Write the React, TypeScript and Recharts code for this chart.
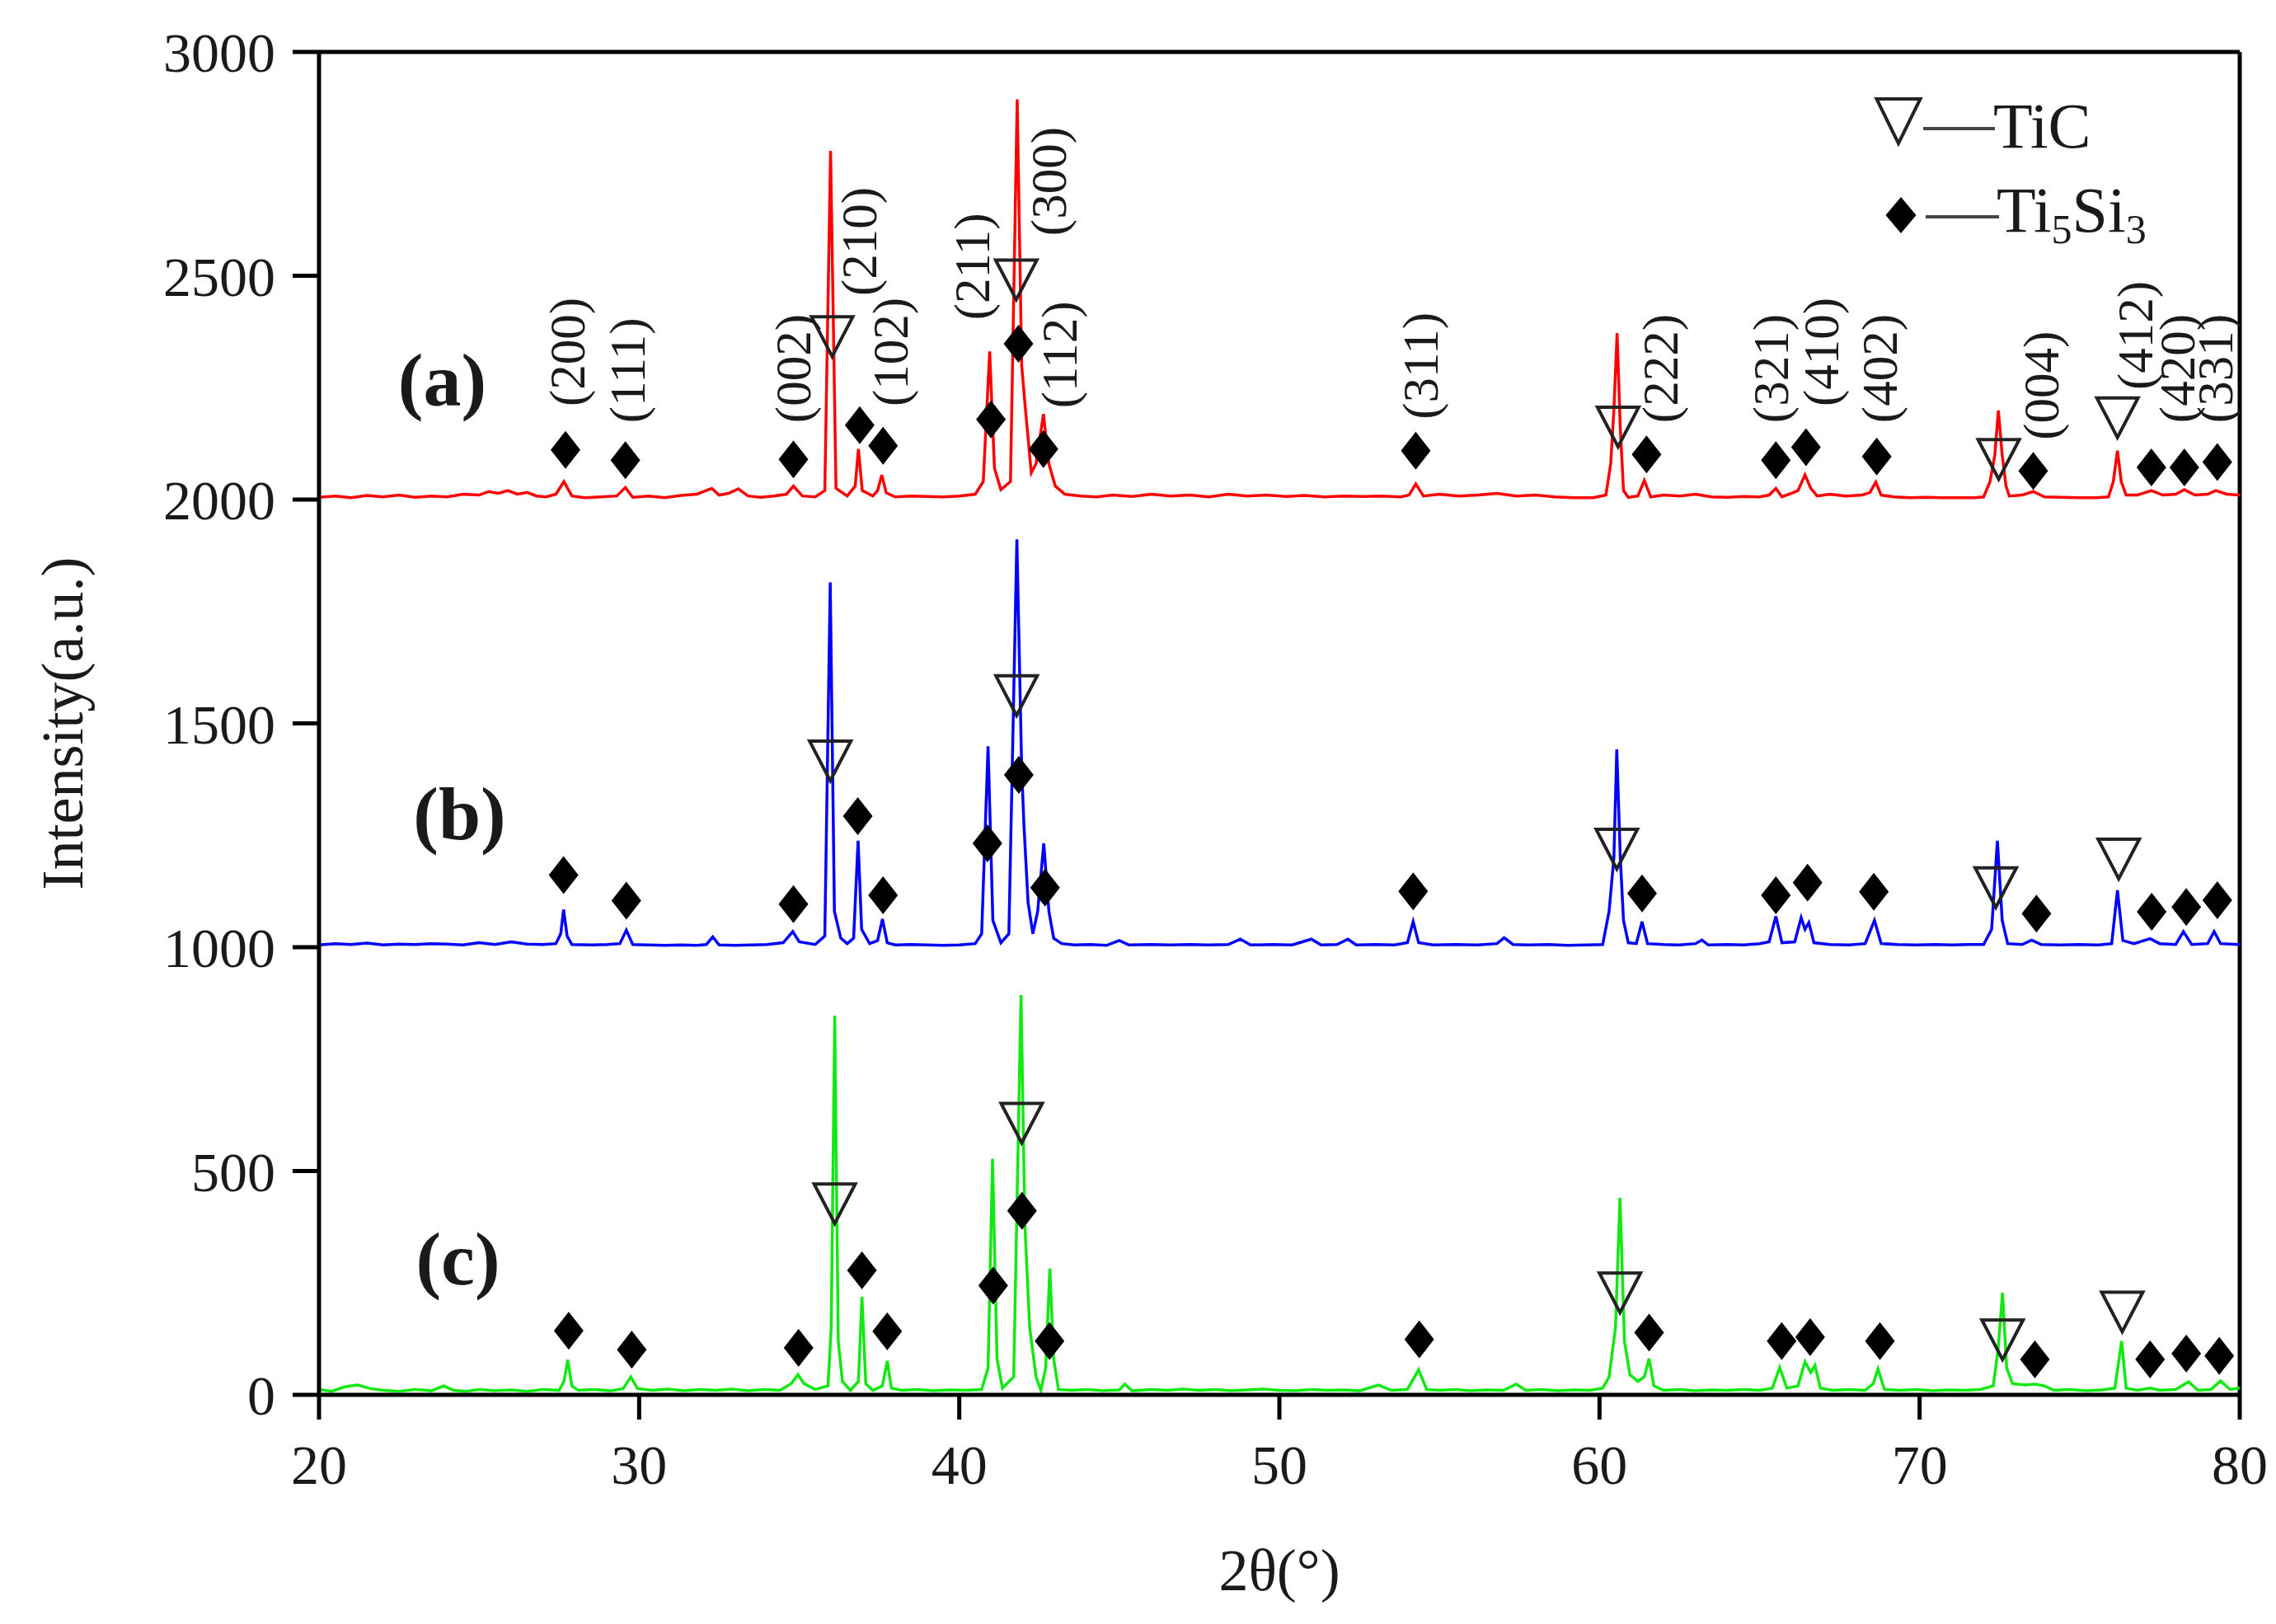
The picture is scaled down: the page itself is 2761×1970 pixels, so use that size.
import React from 'react';
import {
    ComposedChart,
    Line,
    Scatter,
    XAxis,
    YAxis,
    ReferenceLine,
} from 'recharts';

// XRD patterns, [2θ, intensity]
const PATTERN_A: [number, number][] = [
    [20.0, 2005], [20.5, 2008], [21.0, 2004], [21.5, 2009], [22.0, 2006], [22.5, 2010], [23.0, 2005],
    [23.5, 2008], [24.0, 2006], [24.5, 2012], [25.0, 2010], [25.3, 2018], [25.6, 2014], [25.9, 2020],
    [26.2, 2012], [26.5, 2016], [26.8, 2008], [27.1, 2006], [27.4, 2012], [27.65, 2040], [27.9, 2008],
    [28.3, 2004], [28.8, 2006], [29.3, 2008], [29.57, 2027], [29.8, 2005], [30.3, 2008], [30.8, 2004],
    [31.3, 2009], [31.8, 2012], [32.27, 2025], [32.5, 2010], [32.8, 2014], [33.1, 2024], [33.4, 2008],
    [33.8, 2005], [34.2, 2008], [34.6, 2012], [34.82, 2030], [35.1, 2008], [35.5, 2006], [35.8, 2020],
    [35.98, 2779], [36.15, 2025], [36.5, 2008], [36.75, 2030], [36.85, 2113], [36.97, 2020], [37.3, 2008],
    [37.45, 2020], [37.58, 2055], [37.72, 2015], [38.0, 2006], [38.5, 2008], [39.0, 2007], [39.5, 2006],
    [40.0, 2008], [40.5, 2012], [40.75, 2040], [40.95, 2331], [41.1, 2070], [41.3, 2022], [41.6, 2040],
    [41.81, 2894], [41.95, 2300], [42.05, 2216], [42.25, 2060], [42.4, 2080], [42.63, 2191], [42.8, 2080],
    [43.0, 2030], [43.3, 2012], [43.8, 2008], [44.3, 2006], [44.8, 2010], [45.4, 2007], [46.0, 2012],
    [46.6, 2008], [47.2, 2010], [47.8, 2006], [48.4, 2012], [49.0, 2008], [49.6, 2010], [50.2, 2007],
    [50.8, 2009], [51.4, 2006], [52.0, 2008], [52.6, 2007], [53.2, 2008], [53.8, 2006], [54.05, 2010],
    [54.26, 2035], [54.5, 2008], [55.0, 2012], [55.6, 2008], [56.2, 2010], [56.8, 2014], [57.4, 2008],
    [58.0, 2010], [58.6, 2006], [59.2, 2004], [59.8, 2004], [60.2, 2010], [60.35, 2080], [60.45, 2200],
    [60.55, 2372], [60.65, 2160], [60.75, 2020], [60.9, 2005], [61.2, 2008], [61.4, 2043], [61.6, 2006],
    [62.0, 2010], [62.5, 2008], [63.0, 2012], [63.5, 2006], [64.0, 2005], [64.5, 2007], [65.0, 2006],
    [65.3, 2010], [65.51, 2025], [65.7, 2006], [66.0, 2014], [66.2, 2020], [66.42, 2055], [66.6, 2025],
    [66.8, 2008], [67.2, 2012], [67.7, 2008], [68.2, 2010], [68.45, 2016], [68.63, 2039], [68.8, 2010],
    [69.2, 2006], [69.7, 2004], [70.2, 2005], [70.7, 2004], [71.2, 2004], [71.7, 2004], [72.0, 2006],
    [72.2, 2040], [72.35, 2100], [72.46, 2199], [72.58, 2100], [72.7, 2030], [72.8, 2008], [73.2, 2010],
    [73.55, 2018], [73.9, 2006], [74.4, 2005], [75.0, 2004], [75.5, 2004], [75.9, 2006], [76.05, 2040],
    [76.18, 2109], [76.3, 2040], [76.45, 2010], [76.8, 2010], [77.24, 2020], [77.6, 2010], [78.0, 2012],
    [78.27, 2022], [78.6, 2010], [79.0, 2012], [79.25, 2020], [79.6, 2012], [80.0, 2010],
];

const PATTERN_B: [number, number][] = [
    [20.0, 1005], [20.5, 1008], [21.0, 1006], [21.5, 1009], [22.0, 1005], [22.5, 1007], [23.0, 1006],
    [23.5, 1008], [24.0, 1007], [24.5, 1005], [25.0, 1010], [25.5, 1006], [26.0, 1012], [26.5, 1007],
    [27.0, 1006], [27.4, 1008], [27.55, 1030], [27.64, 1084], [27.75, 1025], [27.9, 1006], [28.5, 1005],
    [29.0, 1006], [29.4, 1008], [29.6, 1038], [29.8, 1006], [30.3, 1005], [30.8, 1004], [31.3, 1005],
    [31.8, 1004], [32.1, 1006], [32.3, 1023], [32.5, 1005], [33.0, 1004], [33.5, 1005], [34.0, 1006],
    [34.5, 1010], [34.8, 1035], [35.0, 1012], [35.5, 1006], [35.8, 1025], [35.97, 1815], [36.1, 1080],
    [36.3, 1020], [36.5, 1008], [36.7, 1020], [36.84, 1238], [36.95, 1040], [37.2, 1008], [37.45, 1015],
    [37.6, 1063], [37.75, 1010], [38.0, 1005], [38.5, 1006], [39.0, 1005], [39.5, 1004], [40.0, 1005],
    [40.5, 1008], [40.7, 1030], [40.9, 1449], [41.05, 1060], [41.3, 1010], [41.55, 1030], [41.8, 1911],
    [41.95, 1400], [42.02, 1274], [42.15, 1100], [42.3, 1030], [42.45, 1080], [42.64, 1232], [42.8, 1080],
    [42.95, 1020], [43.2, 1008], [43.6, 1005], [44.1, 1006], [44.6, 1004], [45.0, 1015], [45.3, 1005],
    [46.0, 1006], [46.6, 1005], [47.2, 1006], [47.8, 1005], [48.4, 1006], [48.78, 1018], [49.1, 1005],
    [49.8, 1006], [50.4, 1005], [51.0, 1018], [51.3, 1005], [51.8, 1006], [52.14, 1018], [52.4, 1005],
    [53.0, 1006], [53.6, 1005], [54.0, 1010], [54.18, 1057], [54.35, 1010], [54.8, 1005], [55.5, 1006],
    [56.2, 1005], [56.8, 1008], [57.02, 1021], [57.3, 1006], [57.8, 1005], [58.4, 1006], [59.0, 1004],
    [59.6, 1005], [60.1, 1006], [60.3, 1080], [60.45, 1200], [60.54, 1442], [60.65, 1200], [60.75, 1060],
    [60.9, 1010], [61.15, 1008], [61.33, 1057], [61.5, 1008], [62.0, 1006], [62.5, 1005], [63.0, 1008],
    [63.2, 1016], [63.4, 1005], [64.0, 1006], [64.5, 1005], [65.0, 1008], [65.3, 1012], [65.51, 1069],
    [65.7, 1010], [66.1, 1012], [66.3, 1066], [66.42, 1040], [66.54, 1055], [66.7, 1010], [67.2, 1006],
    [67.8, 1005], [68.3, 1008], [68.59, 1060], [68.8, 1008], [69.3, 1006], [69.9, 1005], [70.5, 1006],
    [71.0, 1005], [71.5, 1006], [72.0, 1006], [72.25, 1040], [72.43, 1238], [72.58, 1060], [72.75, 1008],
    [73.2, 1006], [73.5, 1016], [73.8, 1006], [74.4, 1005], [75.0, 1006], [75.6, 1005], [76.0, 1008],
    [76.18, 1127], [76.35, 1015], [76.7, 1008], [77.2, 1019], [77.5, 1008], [78.0, 1006], [78.24, 1035],
    [78.5, 1006], [79.0, 1008], [79.2, 1035], [79.4, 1008], [80.0, 1006],
];

const PATTERN_C: [number, number][] = [
    [20.0, 12], [20.4, 8], [20.8, 18], [21.2, 22], [21.6, 14], [22.0, 10], [22.5, 8], [23.0, 12],
    [23.5, 9], [23.9, 20], [24.2, 10], [24.6, 8], [25.0, 12], [25.5, 9], [26.0, 11], [26.5, 8],
    [27.0, 12], [27.5, 10], [27.65, 30], [27.77, 78], [27.9, 20], [28.1, 10], [28.6, 12], [29.1, 9],
    [29.5, 14], [29.74, 40], [29.95, 14], [30.4, 10], [30.9, 13], [31.4, 9], [31.9, 12], [32.4, 10],
    [32.9, 13], [33.4, 9], [33.9, 12], [34.4, 10], [34.75, 25], [34.96, 45], [35.15, 25], [35.5, 12],
    [35.9, 20], [36.0, 150], [36.11, 847], [36.22, 120], [36.35, 30], [36.6, 10], [36.85, 30], [36.96, 219],
    [37.08, 25], [37.3, 10], [37.6, 20], [37.75, 76], [37.88, 15], [38.2, 10], [38.7, 12], [39.2, 9],
    [39.7, 11], [40.2, 10], [40.7, 12], [40.9, 60], [41.04, 527], [41.18, 80], [41.35, 15], [41.7, 40],
    [41.93, 893], [42.05, 380], [42.2, 150], [42.4, 40], [42.55, 10], [42.7, 60], [42.83, 282], [42.95, 80],
    [43.1, 12], [43.5, 10], [44.0, 12], [44.5, 9], [45.0, 11], [45.17, 24], [45.4, 9], [46.0, 12],
    [46.5, 10], [47.0, 13], [47.5, 10], [48.0, 12], [48.5, 9], [49.0, 11], [49.5, 13], [50.0, 10],
    [50.5, 9], [51.0, 12], [51.5, 10], [52.0, 11], [52.5, 9], [53.1, 22], [53.5, 10], [54.0, 12],
    [54.35, 56], [54.6, 12], [55.0, 10], [55.5, 12], [56.0, 9], [56.5, 11], [57.0, 10], [57.4, 24],
    [57.7, 10], [58.2, 12], [58.7, 9], [59.2, 11], [59.7, 10], [60.1, 15], [60.3, 40], [60.5, 150],
    [60.64, 440], [60.78, 120], [60.95, 45], [61.2, 30], [61.4, 40], [61.55, 81], [61.7, 20], [62.0, 10],
    [62.5, 12], [63.0, 9], [63.5, 11], [64.0, 10], [64.5, 12], [65.0, 10], [65.4, 15], [65.63, 61],
    [65.85, 15], [66.2, 20], [66.42, 74], [66.6, 50], [66.73, 66], [66.9, 15], [67.3, 10], [67.8, 12],
    [68.3, 10], [68.55, 25], [68.7, 58], [68.9, 12], [69.4, 10], [69.9, 12], [70.4, 9], [70.9, 11],
    [71.4, 10], [71.9, 12], [72.3, 20], [72.45, 100], [72.59, 228], [72.72, 60], [72.9, 25], [73.3, 22],
    [73.6, 24], [73.9, 20], [74.2, 10], [74.7, 12], [75.2, 9], [75.7, 11], [76.1, 15], [76.31, 120],
    [76.45, 15], [76.8, 10], [77.2, 15], [77.5, 10], [78.0, 12], [78.4, 29], [78.7, 10], [79.1, 12],
    [79.4, 31], [79.7, 12], [80.0, 15],
];

// phase markers: ∇ TiC, ◆ Ti5Si3
const TIC_MARKS: [number, number][] = [
    [36.03, 2364], [41.78, 2491], [60.58, 2162], [72.47, 2090], [76.18, 2183],
    [35.97, 1416], [41.79, 1562], [60.54, 1219], [72.38, 1133], [76.22, 1197],
    [36.11, 427], [41.95, 607], [60.64, 228], [72.59, 123], [76.33, 185],
];

const TI5SI3_MARKS: [number, number][] = [
    [27.7, 2111], [29.57, 2088], [34.82, 2090], [36.89, 2166], [37.62, 2120], [40.99, 2179],
    [41.85, 2348], [42.63, 2113], [54.26, 2109], [61.47, 2101], [65.51, 2088], [66.45, 2117],
    [68.66, 2096], [73.55, 2064], [77.24, 2072], [78.27, 2072], [79.3, 2084],
    [27.64, 1161], [29.6, 1104], [34.82, 1096], [36.83, 1293], [37.62, 1116], [40.88, 1232],
    [41.86, 1385], [42.68, 1133], [54.18, 1125], [61.33, 1120], [65.51, 1116], [66.5, 1144],
    [68.57, 1124], [73.65, 1075], [77.25, 1079], [78.33, 1090], [79.3, 1105],
    [27.8, 143], [29.77, 101], [34.98, 105], [36.96, 278], [37.75, 142], [41.06, 244],
    [41.96, 411], [42.82, 120], [54.37, 124], [61.55, 139], [65.69, 120], [66.58, 129],
    [68.76, 120], [73.6, 79], [77.2, 79], [78.33, 92], [79.36, 87],
];

// Miller indices above pattern (a): label, 2θ, intensity at the text's start
const HKL_LABELS = ['(200)', '(111)', '(002)', '(210)', '(102)', '(211)', '(300)', '(112)', '(311)',
    '(222)', '(321)', '(410)', '(402)', '(004)', '(412)', '(420)', '(331)'];
const HKL_THETA = [27.77, 29.65, 34.82, 36.89, 37.87, 40.41, 42.81, 43.15, 54.42,
    61.9, 65.35, 66.92, 68.75, 73.82, 76.75, 78.06, 79.25];
const HKL_BASE = [2208, 2171, 2171, 2455, 2208, 2401, 2589, 2204, 2179,
    2171, 2171, 2208, 2171, 2133, 2245, 2171, 2171];

const PANEL_LABELS = ['(a)', '(b)', '(c)'];
const PANEL_THETA = [23.85, 24.39, 24.34];
const PANEL_Y = [2267, 1298, 304];

const X_TICKS = [20, 30, 40, 50, 60, 70, 80];
const Y_TICKS = [0, 500, 1000, 1500, 2000, 2500, 3000];

const FONT = '"Liberation Serif", "Times New Roman", serif';
const INK = '#1a1a1a';

const toPts = (arr: [number, number][]) => arr.map(([x, y]) => ({ x, y }));

const dataA = toPts(PATTERN_A);
const dataB = toPts(PATTERN_B);
const dataC = toPts(PATTERN_C);
const ticData = toPts(TIC_MARKS);
const siData = toPts(TI5SI3_MARKS);
const hklData = HKL_LABELS.map((label, i) => ({ x: HKL_THETA[i], y: HKL_BASE[i], label }));
const panelData = PANEL_LABELS.map((label, i) => ({ x: PANEL_THETA[i], y: PANEL_Y[i], label }));

const Triangle = ({ cx, cy, w = 50, h = 48 }: any) => (
    <polygon
        points={`${cx - w / 2},${cy - h / 2} ${cx + w / 2},${cy - h / 2} ${cx},${cy + h / 2}`}
        fill="none"
        stroke="#222"
        strokeWidth={4}
        strokeLinejoin="miter"
    />
);

const Diamond = ({ cx, cy, w = 36, h = 46 }: any) => (
    <polygon
        points={`${cx},${cy - h / 2} ${cx + w / 2},${cy} ${cx},${cy + h / 2} ${cx - w / 2},${cy}`}
        fill="#000"
    />
);

const HklText = ({ cx, cy, payload }: any) => (
    <text
        x={cx}
        y={cy}
        transform={`rotate(-90 ${cx} ${cy})`}
        textAnchor="start"
        dominantBaseline="central"
        fontFamily={FONT}
        fontSize={61}
        fill={INK}
    >
        {payload.label}
    </text>
);

const PanelText = ({ cx, cy, payload }: any) => (
    <text
        x={cx}
        y={cy}
        textAnchor="middle"
        dominantBaseline="central"
        fontFamily={FONT}
        fontSize={92}
        fontWeight="bold"
        fill={INK}
    >
        {payload.label}
    </text>
);

const YTitle = ({ viewBox }: any) => {
    const x = viewBox.x + 76;
    const y = viewBox.y + viewBox.height / 2;
    return (
        <text x={x} y={y} transform={`rotate(-90 ${x} ${y})`} textAnchor="middle"
            dominantBaseline="central" fontFamily={FONT} fontSize={72} fill={INK}>
            Intensity(a.u.)
        </text>
    );
};

const XTitle = ({ viewBox }: any) => (
    <text x={viewBox.x + viewBox.width / 2} y={viewBox.y + 213} textAnchor="middle"
        dominantBaseline="central" fontFamily={FONT} fontSize={72} fill={INK}>
        2θ(°)
    </text>
);

const tickStyle = { fontSize: 68, fontFamily: FONT, fill: INK };

export default function App() {
    return (
        <div style={{ position: 'absolute', left: 0, top: 0, width: 2761, height: 1970, background: '#fff' }}>
            <ComposedChart
                width={2761}
                height={1970}
                margin={{ top: 63, right: 44, left: 0, bottom: 0 }}
            >
                <XAxis
                    dataKey="x"
                    type="number"
                    domain={[20, 80]}
                    ticks={X_TICKS}
                    allowDataOverflow
                    height={278}
                    stroke="#000"
                    strokeWidth={5}
                    tickSize={30}
                    tickMargin={30}
                    tick={tickStyle}
                    label={{ content: (p: any) => <XTitle {...p} /> }}
                />
                <YAxis
                    dataKey="y"
                    type="number"
                    domain={[0, 3000]}
                    ticks={Y_TICKS}
                    allowDataOverflow
                    width={387}
                    stroke="#000"
                    strokeWidth={5}
                    tickSize={32}
                    tickMargin={21}
                    tick={tickStyle}
                    label={{ content: (p: any) => <YTitle {...p} /> }}
                />
                <ReferenceLine y={3000} stroke="#000" strokeWidth={5} />
                <ReferenceLine x={80} stroke="#000" strokeWidth={5} />

                <Line data={dataC} dataKey="y" type="linear" stroke="#12e812" strokeWidth={3.5}
                    dot={false} activeDot={false} isAnimationActive={false} />
                <Line data={dataB} dataKey="y" type="linear" stroke="#0000ff" strokeWidth={3.5}
                    dot={false} activeDot={false} isAnimationActive={false} />
                <Line data={dataA} dataKey="y" type="linear" stroke="#ff0000" strokeWidth={3.5}
                    dot={false} activeDot={false} isAnimationActive={false} />

                <Scatter data={ticData} shape={(p: any) => <Triangle cx={p.cx} cy={p.cy} />}
                    isAnimationActive={false} />
                <Scatter data={siData} shape={(p: any) => <Diamond cx={p.cx} cy={p.cy} />}
                    isAnimationActive={false} />
                <Scatter data={hklData} shape={(p: any) => <HklText {...p} />}
                    isAnimationActive={false} />
                <Scatter data={panelData} shape={(p: any) => <PanelText {...p} />}
                    isAnimationActive={false} />
            </ComposedChart>

            {/* phase key, top right */}
            <svg width={2761} height={1970} style={{ position: 'absolute', left: 0, top: 0, pointerEvents: 'none' }}>
                <Triangle cx={2303} cy={147} w={53} h={54} />
                <line x1={2333} x2={2420} y1={156} y2={156} stroke="#444" strokeWidth={4} />
                <text x={2418} y={179} fontFamily={FONT} fontSize={78} fill={INK}>TiC</text>
                <Diamond cx={2306} cy={261} w={37} h={44} />
                <line x1={2336} x2={2425} y1={263} y2={263} stroke="#444" strokeWidth={4} />
                <text x={2422} y={281} fontFamily={FONT} fontSize={78} fill={INK}>
                    Ti<tspan fontSize={50} dy={14}>5</tspan><tspan dy={-14}>Si</tspan><tspan fontSize={50} dy={14}>3</tspan>
                </text>
            </svg>
        </div>
    );
}
